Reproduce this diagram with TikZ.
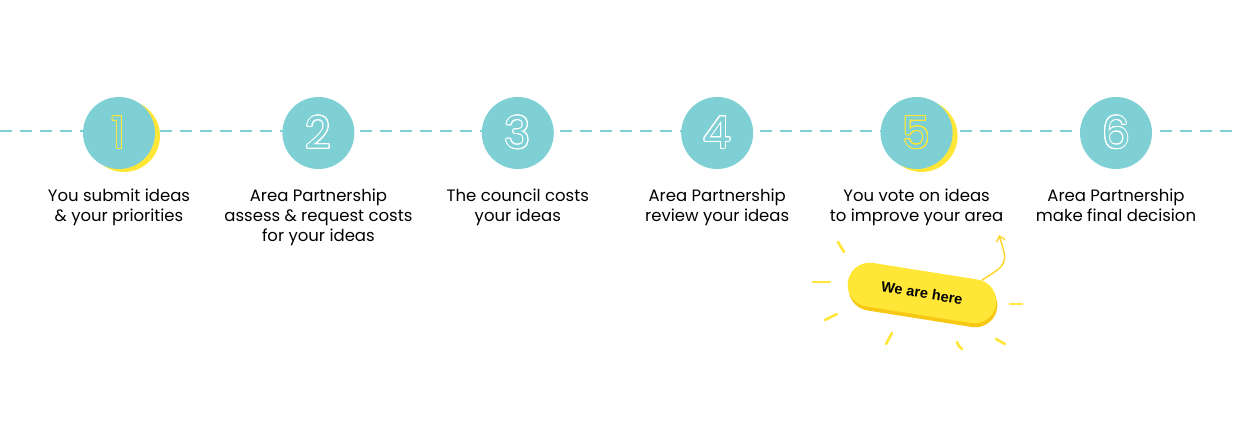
\documentclass[tikz,border=0pt]{standalone}
\usepackage{fontspec}
\setmainfont{Poppins}
\newfontfamily\tagfont{Liberation Sans}
\usepackage{contour}
\usetikzlibrary{calc,positioning,shapes.misc,arrows.meta,shadows}
\pgfdeclarelayer{back}
\pgfsetlayers{back,main}
\definecolor{stepteal}{RGB}{126,208,213}
\definecolor{stepyellow}{RGB}{255,230,55}
\definecolor{tagshade}{RGB}{246,200,20}
\contourlength{1pt}
\newcommand{\stepnum}[2]{\contour{#1}{\textcolor{stepteal}{#2}}}
\tikzstyle{stepdisc} = [circle, fill=stepteal, minimum size=72pt, inner sep=0pt,
    font=\fontsize{44}{44}\selectfont]
\tikzstyle{moon} = [circle, fill=stepyellow, minimum size=72pt, inner sep=0pt]
\tikzstyle{caption} = [align=center, inner sep=0pt, anchor=north,
    font=\fontsize{16.5}{20}\selectfont]
\tikzstyle{pill} = [rounded rectangle, minimum width=150pt, minimum height=44pt,
    inner sep=0pt, fill=stepyellow,
    drop shadow={shadow xshift=1pt, shadow yshift=-4pt, fill=tagshade, opacity=1},
    font=\tagfont\bfseries\fontsize{14.5}{14.5}\selectfont]
\tikzstyle{ray} = [draw=stepyellow, line width=2.6pt, line cap=round]

\begin{document}
\begin{tikzpicture}[x=1pt,y=-1pt,node distance=127pt]
    \useasboundingbox (0,0) rectangle (1240,443);
    \draw [stepteal, line width=1.6pt, dash pattern=on 12pt off 8pt] (0,131) -- (1240,131);

    \node (s1) [stepdisc] at (119,133) {\stepnum{stepyellow}{1}};
    \node (s2) [stepdisc, right=of s1] {\stepnum{white}{2}};
    \node (s3) [stepdisc, right=of s2] {\stepnum{white}{3}};
    \node (s4) [stepdisc, right=of s3] {\stepnum{white}{4}};
    \node (s5) [stepdisc, right=of s4] {\stepnum{stepyellow}{5}};
    \node (s6) [stepdisc, right=of s5] {\stepnum{white}{6}};

    \begin{pgfonlayer}{back}
    \node (m1) [moon] at ($(s1)+(5,3)$) {};
    \node (m5) [moon] at ($(s5)+(5,3)$) {};
    \end{pgfonlayer}

    \node (c1) [caption, below=20pt of s1] {You submit ideas\\\& your priorities};
    \node (c2) [caption, below=20pt of s2] {Area Partnership\\assess \& request costs\\for your ideas};
    \node (c3) [caption, below=20pt of s3] {The council costs\\your ideas};
    \node (c4) [caption, below=20pt of s4] {Area Partnership\\review your ideas};
    \node (c5) [caption, below=20pt of s5] {You vote on ideas\\to improve your area};
    \node (c6) [caption, below=20pt of s6] {Area Partnership\\make final decision};

    % we are here tag
    \node (tag) [pill, rotate=-9] at (922,293) {We are here};
    \coordinate (tip) at (999,235);
    \draw [stepyellow!85!orange, line width=1.5pt, -{Straight Barb[length=5pt,width=9pt]}]
        (tag.21) .. controls (1008,264) .. (tip);

    \draw [ray] (838,242) -- (844,252);
    \draw [ray] (813,282) -- (830,282);
    \draw [ray] (825,320) -- (837,314);
    \draw [ray] (892,333) -- (886,344);
    \draw [ray] (957,342) to[bend right=20] (962,349);
    \draw [ray] (996,339) -- (1005,344);
    \draw [ray] (1010,304) -- (1022,304);
\end{tikzpicture}
\end{document}
